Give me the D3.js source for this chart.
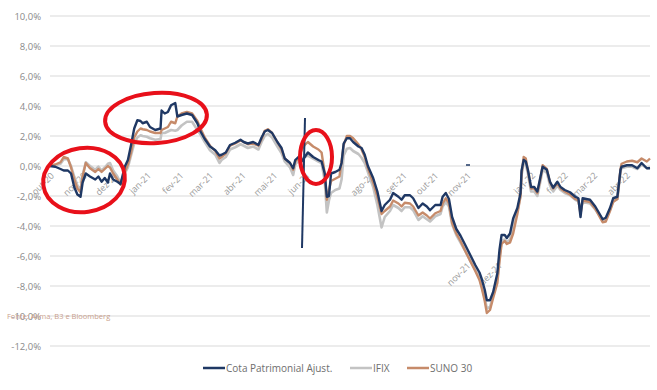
<!DOCTYPE html>
<html>
<head>
<meta charset="utf-8">
<script src="https://cdn.jsdelivr.net/npm/d3@7"></script>
<style>
  html, body { margin: 0; padding: 0; background: #fff; }
  svg { display: block; font-family: "Open Sans", "Noto Sans", sans-serif; }
</style>
</head>
<body>
<script>
// ---------- DATA ----------
// day offsets since 2020-10-01 (shared by all series)
const dayOffsets = [0,5,10,13,17,20,23,26,29,31,34,38,43,46,49,52,55,57,60,64,67,71,74,77,80,83,86,88,92,95,100,105,106,109,112,115,119,121,125,130,135,140,143,147,152,157,161,163,167,171,176,181,184,188,193,198,201,204,207,211,216,220,223,228,231,233,236,239,242,245,250,255,258,261,263,265,267,271,275,277,279,282,285,288,293,296,299,302,307,311,315,318,323,326,331,334,337,342,345,350,354,358,361,366,371,373,376,379,382,386,390,394,399,404,408,410,413,415,418,421,425,427,429,432,434,437,440,444,447,448,450,452,454,457,460,463,466,468,472,475,478,482,485,489,494,499,502,504,506,513,518,523,525,528,532,535,539,542,543,548,553,558,562,567,570];

const cotaPatrimonial = [0,-0.05,-0.2,-0.3,-0.3,-0.5,-1.4,-1.9,-2.05,-1.1,-0.5,-0.7,-0.9,-0.7,-1.05,-0.8,-1.1,-0.5,-0.9,-1.05,-1.2,-0.05,0.4,1.4,2.5,3.05,3.0,2.85,2.95,2.6,2.4,2.5,3.7,3.5,3.6,4.05,4.2,3.3,3.4,3.5,3.4,2.85,2.3,1.8,1.3,1.05,0.7,0.75,0.9,1.4,1.55,1.75,1.6,1.5,1.6,1.4,1.9,2.3,2.4,2.2,1.6,1.2,0.5,0.2,-0.15,0.4,0.6,0.3,0.6,0.9,0.6,0.4,0.3,-0.5,-2.05,-2.0,-0.5,-0.4,-0.25,0.2,1.5,1.85,1.85,1.6,1.3,1.2,0.75,0.0,-0.8,-1.7,-3.0,-2.6,-2.25,-1.8,-2.05,-2.25,-1.95,-1.95,-2.15,-2.8,-2.5,-2.7,-2.95,-2.6,-2.6,-2.05,-1.8,-2.2,-3.4,-4.2,-4.65,-5.2,-5.9,-6.6,-7.1,-7.5,-8.25,-8.95,-8.95,-8.4,-7.15,-5.6,-4.6,-4.6,-4.8,-4.5,-3.5,-2.8,-1.8,-0.3,0.4,0.3,-0.25,-1.4,-1.4,-1.7,-0.7,-0.05,-0.25,-1.05,-1.45,-1.05,-1.4,-1.6,-1.75,-2.05,-2.15,-3.4,-2.15,-2.25,-2.7,-3.3,-3.55,-3.45,-2.8,-2.15,-2.05,-0.25,-0.05,0.05,0.05,-0.15,0.2,-0.15,-0.15];

const ifix = [0,0.05,0.15,0.45,0.45,0,-0.7,-1.3,-1.6,-0.6,0.25,0,-0.25,-0.05,-0.3,-0.1,0.15,0.2,-0.3,-0.7,-1.1,-0.5,-0.1,0.7,1.5,1.9,2.05,2.0,1.95,1.85,1.75,1.8,2.2,2.2,2.3,2.4,2.35,2.4,2.7,2.95,2.95,2.4,2.1,1.6,1.05,0.75,0.2,0.4,0.6,1.1,1.25,1.45,1.35,1.2,1.3,1.1,1.6,2.0,2.15,1.9,1.3,0.85,0.3,-0.1,-0.6,0.1,0.35,0.5,0.6,0.7,0.5,0.3,0.2,-1.0,-3.1,-2.3,-1.8,-1.6,-1.5,-0.9,0.7,1.15,1.2,1.0,0.8,0.55,0.2,-0.4,-1.4,-2.6,-4.1,-3.4,-3.0,-2.6,-2.8,-3.0,-2.75,-2.75,-2.95,-3.6,-3.35,-3.55,-3.7,-3.35,-3.2,-2.7,-2.4,-2.7,-3.9,-4.6,-5.1,-5.6,-6.3,-6.9,-7.5,-8.0,-8.8,-9.5,-9.4,-8.6,-7.5,-6.1,-5.0,-4.9,-5.1,-4.9,-4.0,-3.0,-2.0,-0.6,0.2,0.1,-0.5,-1.7,-1.7,-2.0,-1.0,-0.25,-0.45,-1.3,-1.7,-1.3,-1.6,-1.8,-1.95,-2.25,-2.35,-3.0,-2.4,-2.5,-2.9,-3.4,-3.6,-3.55,-2.9,-2.3,-2.2,-0.35,-0.15,-0.05,-0.05,-0.2,0.1,-0.15,-0.1];

const suno30 = [0,0.1,0.25,0.6,0.5,-0.1,-0.9,-1.5,-1.75,-0.7,0.2,-0.15,-0.4,-0.2,-0.4,-0.2,0,-0.1,-0.5,-0.9,-1.25,-0.4,0.1,0.9,1.9,2.3,2.5,2.45,2.4,2.3,2.2,2.2,2.4,2.5,2.6,2.95,2.85,3.3,3.5,3.6,3.5,3.0,2.5,1.9,1.35,1.0,0.5,0.6,0.85,1.35,1.5,1.7,1.6,1.45,1.5,1.35,1.8,2.35,2.45,2.2,1.6,1.1,0.5,0.2,-0.25,0.3,0.5,1.05,1.4,1.6,1.3,1.1,0.9,-0.5,-2.25,-1.6,-1.0,-0.85,-0.7,0.3,1.4,2.0,2.0,1.85,1.45,1.1,0.6,-0.15,-1.1,-2.05,-3.2,-3.0,-2.7,-2.3,-2.5,-2.7,-2.45,-2.5,-2.7,-3.3,-3.1,-3.3,-3.5,-3.15,-3.0,-2.5,-2.15,-2.5,-3.8,-4.5,-5.0,-5.6,-6.3,-7.0,-7.6,-8.1,-9.0,-9.8,-9.6,-8.8,-7.8,-6.4,-5.2,-5.0,-5.2,-5.1,-4.5,-3.2,-2.0,-0.5,0.6,0.5,-0.3,-1.5,-1.5,-1.8,-0.8,0.05,-0.2,-1.1,-1.5,-1.15,-1.5,-1.7,-1.9,-2.2,-2.3,-3.2,-2.3,-2.4,-2.85,-3.5,-3.75,-3.7,-3.0,-2.4,-2.2,-0.2,0.15,0.3,0.35,0.25,0.5,0.3,0.5];

const yTicks = [10, 8, 6, 4, 2, 0, -2, -4, -6, -8, -10, -12];
const monthLabels = ["out-20","nov-20","dez-20","jan-21","fev-21","mar-21","abr-21","mai-21","jun-21","","ago-21","set-21","out-21","nov-21","","jan-22","fev-22","mar-22","abr-22"];
const repeatedLabels = ["nov-21", "dez-21"];
const seriesNames = ["Cota Patrimonial Ajust.", "IFIX", "SUNO 30"];
const sourceText = "Fonte: Alima, B3 e Bloomberg";

// ---------- SETUP ----------
const W = 657, H = 390;
const start = new Date(Date.UTC(2020, 9, 1));
const dates = dayOffsets.map(d => d3.utcDay.offset(start, d));
const monthDates = monthLabels.map((_, i) => d3.utcMonth.offset(start, i));

const x = d3.scaleUtc().domain([start, d3.utcDay.offset(start, 570)]).range([50, 650]);
const y = d3.scaleLinear().domain([-12, 10]).range([346, 16]);

const loc = d3.formatLocale({decimal: ",", thousands: ".", grouping: [3], currency: ["R$", ""], minus: "-"});
const fmt = loc.format(".1f");

const svg = d3.select("body").append("svg").attr("width", W).attr("height", H);

// gridlines
svg.append("g").selectAll("line").data(yTicks).join("line")
  .attr("x1", 50).attr("x2", 650)
  .attr("y1", d => y(d)).attr("y2", d => y(d))
  .attr("stroke", "#d9d9d9").attr("stroke-width", 1);

// y axis
const yAxis = svg.append("g").attr("transform", "translate(41,0)")
  .call(d3.axisLeft(y).tickValues(yTicks).tickSize(0).tickPadding(0).tickFormat(d => fmt(d) + "%"));
yAxis.select(".domain").remove();
yAxis.selectAll("text").attr("fill", "#8a8a8a").style("font-size", "9.5px").style("font-family", "Open Sans");

// x axis along zero line
const xAxis = svg.append("g").attr("transform", `translate(0,${y(0)})`)
  .call(d3.axisBottom(x).tickValues(monthDates).tickSize(0).tickFormat((d, i) => monthLabels[i]));
xAxis.select(".domain").remove();
xAxis.selectAll("text")
  .attr("x", 0).attr("y", 0).attr("dy", "0.35em")
  .attr("transform", "translate(2,8) rotate(-45)")
  .style("text-anchor", "end")
  .attr("fill", "#9a9a9a").style("font-size", "9px").style("font-family", "Open Sans");

// repeated labels lower down (as in the reference)
svg.append("g").selectAll("text").data(repeatedLabels).join("text")
  .attr("transform", (d, i) => `translate(${x(monthDates[13 + i]) + 2},${y(-6) + 8}) rotate(-45)`)
  .attr("dy", "0.35em")
  .style("text-anchor", "end")
  .attr("fill", "#9a9a9a").style("font-size", "9px")
  .text(d => d);

// lines
const line = d3.line().x((d, i) => x(dates[i])).y(d => y(d));
const seriesData = [
  {vals: ifix, color: "#c3c3c3", w: 2.6},
  {vals: suno30, color: "#c68b6a", w: 2.4},
  {vals: cotaPatrimonial, color: "#1f3864", w: 2.4}
];
svg.append("g").selectAll("path").data(seriesData).join("path")
  .attr("d", d => line(d.vals))
  .attr("fill", "none")
  .attr("stroke", d => d.color)
  .attr("stroke-width", d => d.w)
  .attr("stroke-linejoin", "round");

// vertical marker line and small dash
svg.append("line").attr("x1", 305).attr("y1", 118).attr("x2", 302).attr("y2", 248)
  .attr("stroke", "#1f3864").attr("stroke-width", 2);
svg.append("line").attr("x1", 466).attr("y1", 165).attr("x2", 470).attr("y2", 165)
  .attr("stroke", "#1f3864").attr("stroke-width", 1.5);

// red annotation ellipses
const ellipses = [
  {cx: 84, cy: 180, rx: 41, ry: 32, rot: -8},
  {cx: 156, cy: 118, rx: 51, ry: 25, rot: -4},
  {cx: 316, cy: 157, rx: 16, ry: 27, rot: 0}
];
svg.append("g").selectAll("ellipse").data(ellipses).join("ellipse")
  .attr("cx", d => d.cx).attr("cy", d => d.cy).attr("rx", d => d.rx).attr("ry", d => d.ry)
  .attr("transform", d => `rotate(${d.rot},${d.cx},${d.cy})`)
  .attr("fill", "none").attr("stroke", "#e8101a").attr("stroke-width", 4);

// source text
svg.append("text").attr("x", 7).attr("y", 319)
  .attr("fill", "#c9a08c").style("font-size", "7.5px")
  .text(sourceText);

// legend
const legendItems = [
  {name: seriesNames[0], color: "#1f3864", x: 203},
  {name: seriesNames[1], color: "#c3c3c3", x: 350},
  {name: seriesNames[2], color: "#c68b6a", x: 407}
];
const lg = svg.append("g").selectAll("g").data(legendItems).join("g")
  .attr("transform", d => `translate(${d.x},368)`);
lg.append("line").attr("x1", 0).attr("x2", 22).attr("y1", 0).attr("y2", 0)
  .attr("stroke", d => d.color).attr("stroke-width", 2.5);
lg.append("text").attr("x", 23).attr("y", 0).attr("dy", "0.35em")
  .attr("fill", "#6e6e6e").style("font-size", "10px")
  .text(d => d.name);
</script>
</body>
</html>
